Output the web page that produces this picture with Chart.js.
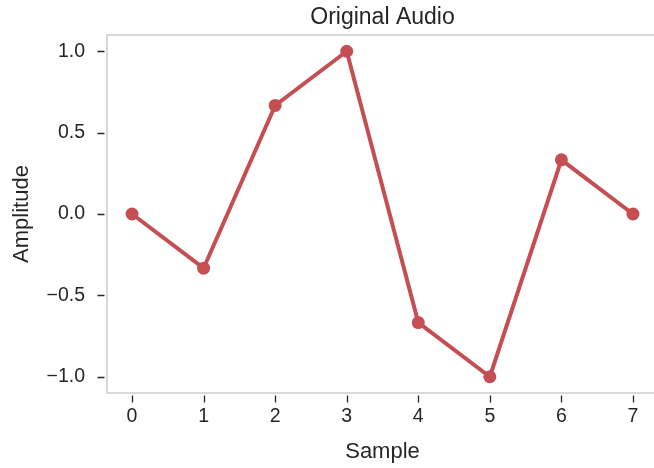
<!DOCTYPE html>
<html>
<head>
<meta charset="utf-8">
<script src="https://cdn.jsdelivr.net/npm/chart.js@4"></script>
<style>
  html, body { margin: 0; padding: 0; background: #fff; overflow: hidden; }
  #wrap { width: 680px; height: 468px; }
</style>
</head>
<body>
<div id="wrap"><canvas id="audioChart"></canvas></div>
<script>
const samples = [0, 1, 2, 3, 4, 5, 6, 7];
const amplitude = [0, -0.333, 0.667, 1, -0.667, -1, 0.333, 0];
const xTicks = [0, 1, 2, 3, 4, 5, 6, 7];
const yTicks = [-1, -0.5, 0, 0.5, 1];

const textColor = '#262626';
const spineColor = '#cccccc';
const red = '#c44e52';
const fontFamily = 'Arial, "Liberation Sans", sans-serif';

// matplotlib style frame + outside ticks with a small gap from the spine
const frameTicks = {
  id: 'frameTicks',
  beforeDatasetsDraw(chart) {
    const {ctx, chartArea: a} = chart;
    ctx.save();
    ctx.strokeStyle = spineColor;
    ctx.lineWidth = 1.5;
    ctx.strokeRect(a.left, a.top, a.right - a.left, a.bottom - a.top);
    ctx.restore();
  },
  afterDraw(chart) {
    const {ctx, chartArea: a, scales} = chart;
    ctx.save();
    ctx.strokeStyle = textColor;
    ctx.lineWidth = 1.3;
    ctx.beginPath();
    yTicks.forEach(v => {
      const y = Math.round(scales.y.getPixelForValue(v)) + 0.5;
      ctx.moveTo(a.left - 9.5, y);
      ctx.lineTo(a.left - 2.5, y);
    });
    xTicks.forEach(v => {
      const x = Math.round(scales.x.getPixelForValue(v)) + 0.5;
      ctx.moveTo(x, a.bottom + 2.5);
      ctx.lineTo(x, a.bottom + 9.5);
    });
    ctx.stroke();
    ctx.restore();
  }
};

new Chart(document.getElementById('audioChart'), {
  type: 'line',
  data: {
    datasets: [{
      data: samples.map((s, i) => ({x: s, y: amplitude[i]})),
      borderColor: red,
      backgroundColor: red,
      borderWidth: 4,
      pointRadius: 6.5,
      pointHoverRadius: 6.5,
      pointBorderWidth: 0,
      tension: 0
    }]
  },
  options: {
    responsive: true,
    maintainAspectRatio: false,
    animation: false,
    layout: { padding: { left: 0, right: 22, top: 0, bottom: 0 } },
    plugins: {
      legend: { display: false },
      tooltip: { enabled: false },
      title: {
        display: true,
        text: 'Original Audio',
        color: textColor,
        fullSize: false,
        font: { family: fontFamily, size: 23, weight: 'normal', lineHeight: 1.2 },
        padding: { top: 4, bottom: 3.4 }
      }
    },
    scales: {
      x: {
        type: 'linear',
        min: -0.35,
        max: 7.35,
        afterBuildTicks: s => { s.ticks = xTicks.map(v => ({value: v})); },
        afterFit: s => { s.height = 75; },
        grid: { display: false, drawTicks: false },
        border: { display: false },
        ticks: {
          color: textColor,
          padding: 12,
          font: { family: fontFamily, size: 19.5 },
          callback: v => String(v)
        },
        title: {
          display: true,
          text: 'Sample',
          color: textColor,
          font: { family: fontFamily, size: 22 },
          padding: { top: 0, bottom: 3 }
        }
      },
      y: {
        min: -1.1,
        max: 1.1,
        afterBuildTicks: s => { s.ticks = yTicks.map(v => ({value: v})); },
        afterFit: s => { s.width = 107; },
        grid: { display: false, drawTicks: false },
        border: { display: false },
        ticks: {
          color: textColor,
          padding: 22,
          font: { family: fontFamily, size: 19.5 },
          callback: v => v.toFixed(1).replace('-', '\u2212')
        },
        title: {
          display: true,
          text: 'Amplitude',
          color: textColor,
          font: { family: fontFamily, size: 22 },
          padding: { top: 9, bottom: 0 }
        }
      }
    }
  },
  plugins: [frameTicks]
});
</script>
</body>
</html>
